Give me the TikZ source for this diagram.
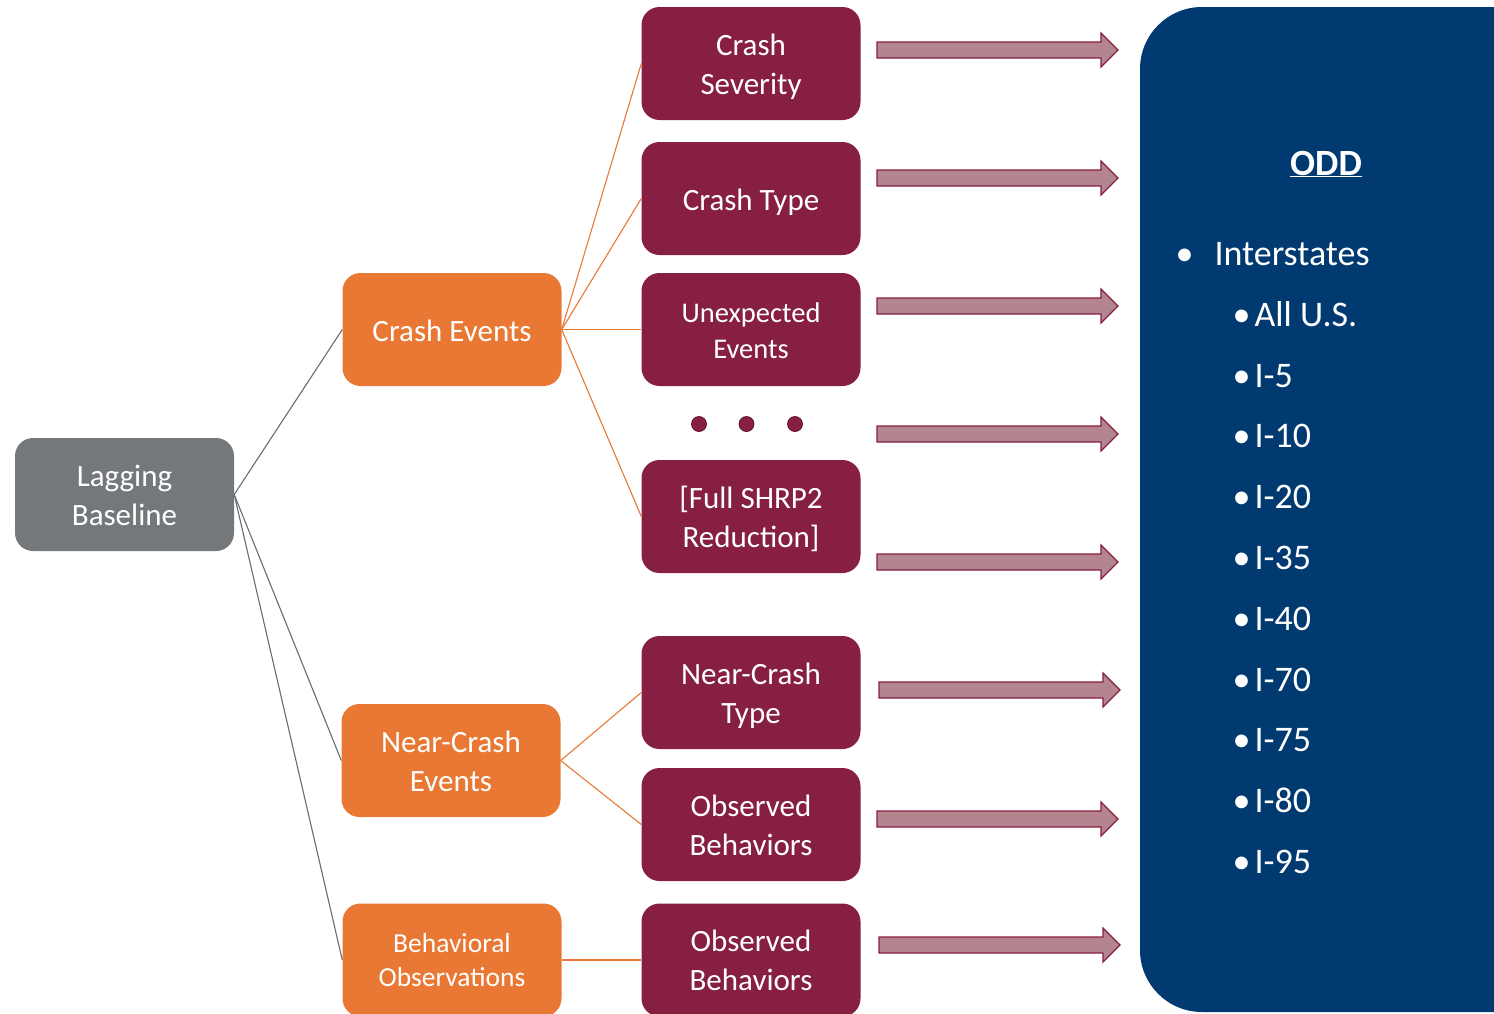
\documentclass[tikz,border=0pt]{standalone}
\usepackage{fontspec}
\setmainfont{Carlito}
\definecolor{maroon}{HTML}{861F41}
\definecolor{orng}{HTML}{E87833}
\definecolor{grayb}{HTML}{75787B}
\definecolor{navy}{HTML}{003A70}
\definecolor{arrfill}{HTML}{B5858F}
\newcommand\lowtxt[2][4pt]{\raisebox{-#1}[\height][\depth]{\begin{tabular}{@{}c@{}}#2\end{tabular}}}
\begin{document}
\begin{tikzpicture}[x=1pt,y=-1pt,
  box/.style={rounded corners=18pt, minimum width=219pt, minimum height=113pt, text=white, align=center, inner sep=0pt, font=\fontsize{31}{39}\selectfont},
  graybox/.style={box, fill=grayb},
  orangebox/.style={box, fill=orng},
  maroonbox/.style={box, fill=maroon},
  gline/.style={draw=grayb!90!black, line width=1.1pt},
  oline/.style={draw=orng, line width=1.1pt},
  fatarrow/.style={fill=arrfill, draw=maroon, line width=1.2pt},
  dot/.style={circle, fill=maroon, draw=maroon!70!black, line width=0.8pt, minimum size=15pt, inner sep=0pt},
  oddtext/.style={text=white, anchor=base west, font=\fontsize{36}{40}\selectfont}
]
\useasboundingbox (0,0) rectangle (1494,1013);
% ODD panel
\begin{scope}
\clip (0,0) rectangle (1494,1013);
\fill[navy, rounded corners=62pt] (1140,7) rectangle (1620,1012);
\end{scope}
\node[text=white, font=\fontsize{37}{40}\selectfont\bfseries, anchor=base] (odd) at (1326,175) {\underline{ODD}};
\node[oddtext] (b0) at (1172,265) {•};
\node[oddtext] (interstates) at (1211,265) {Interstates};
\foreach \t/\yy [count=\i] in {All U.S./326, I-5/387, I-10/447, I-20/508, I-35/569, I-40/630, I-70/691, I-75/751, I-80/812, I-95/873}{
  \node[oddtext] (bul\i) at (1229,\yy) {•};
  \node[oddtext] (item\i) at (1251,\yy) {\t};
}
% Boxes
\node[graybox] (lag) at (124.5,494.5) {\lowtxt{Lagging\\Baseline}};
\node[orangebox] (crash) at (452,329.5) {\lowtxt{Crash Events}};
\node[orangebox] (near) at (451,760.5) {\lowtxt{Near-Crash\\Events}};
\node[orangebox, font=\fontsize{27.5}{34}\selectfont] (behav) at (452,960) {\lowtxt[2.5pt]{Behavioral\\Observations}};
\node[maroonbox] (sev) at (751,63.5) {\lowtxt{Crash\\Severity}};
\node[maroonbox] (type) at (751,198.5) {\lowtxt{Crash Type}};
\node[maroonbox, font=\fontsize{28.5}{36}\selectfont] (unexp) at (751,329.5) {\lowtxt{Unexpected\\Events}};
\node[maroonbox] (full) at (751,516.5) {\lowtxt{[Full SHRP2\\Reduction]}};
\node[maroonbox] (nctype) at (751,692.5) {\lowtxt{Near-Crash\\Type}};
\node[maroonbox] (obs1) at (751,824.5) {\lowtxt{Observed\\Behaviors}};
\node[maroonbox] (obs2) at (751,960) {\lowtxt[3.5pt]{Observed\\Behaviors}};
% dots
\node[dot] (d1) at (699,424) {};
\node[dot] (d2) at (746.5,424) {};
\node[dot] (d3) at (795,424) {};
% connectors
\draw[gline] (lag.east) -- (crash.west);
\draw[gline] (lag.east) -- (near.west);
\draw[gline] (lag.east) -- (behav.west);
\foreach \n in {sev,type,unexp,full}{\draw[oline] (crash.east) -- (\n.west);}
\draw[oline] (near.east) -- (nctype.west);
\draw[oline] (near.east) -- (obs1.west);
\draw[oline] (behav.east) -- (obs2.west);
% fat arrows
\foreach \xx/\yy in {877/50, 877/178, 877/306, 877/434, 877/562, 879/690, 877/819, 879/945}{
  \draw[fatarrow] (\xx,\yy-8) -- (\xx+224,\yy-8) -- (\xx+224,\yy-17) -- (\xx+241,\yy) -- (\xx+224,\yy+17) -- (\xx+224,\yy+8) -- (\xx,\yy+8) -- cycle;
}
\end{tikzpicture}
\end{document}
